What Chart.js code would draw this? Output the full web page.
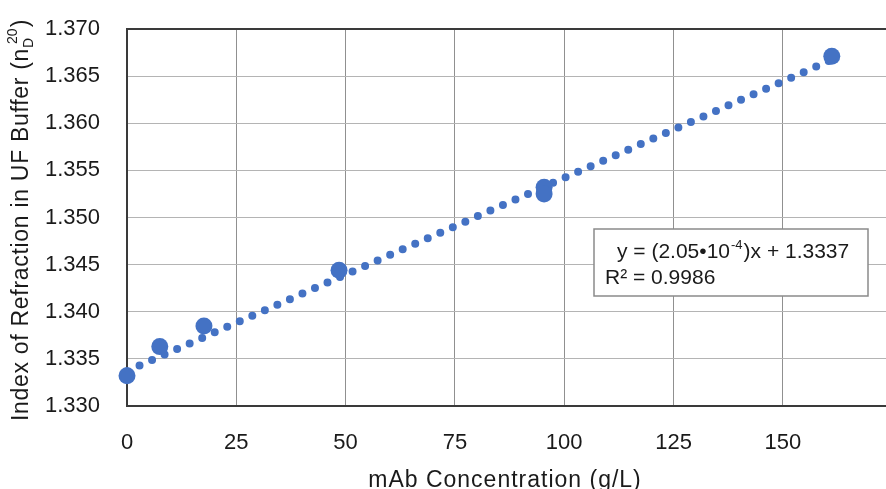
<!DOCTYPE html>
<html>
<head>
<meta charset="utf-8">
<script src="https://cdn.jsdelivr.net/npm/chart.js@4.4.1/dist/chart.umd.min.js"></script>
<style>
  html, body { margin: 0; padding: 0; background: #fff; overflow: hidden; }
  canvas { display: block; }
</style>
</head>
<body>
<canvas id="grafica" width="886" height="489"></canvas>
<script>
// measured samples (mAb concentration in g/L vs refractive index)
const concentracion = [0, 7.5, 17.6, 48.5, 95.4, 95.4, 161.2];
const indice = [1.3332, 1.3363, 1.3385, 1.3444, 1.3532, 1.3525, 1.3671];

// fitted trend line, ends
const tendenciaX = [0, 161];
const tendenciaY = [1.3337, 1.3667];

const ticksX = [0, 25, 50, 75, 100, 125, 150];
const ticksY = [1.330, 1.335, 1.340, 1.345, 1.350, 1.355, 1.360, 1.365, 1.370];

const azul = '#4472C4';
const fuente = "'Liberation Sans', Arial, sans-serif";

const puntos = concentracion.map((x, i) => ({ x: x, y: indice[i] }));
const tendencia = tendenciaX.map((x, i) => ({ x: x, y: tendenciaY[i] }));

// draws the top border, axis titles and the equation box
const extras = {
    id: 'extras',
    beforeDatasetsDraw(chart) {
        const ctx = chart.ctx;
        const a = chart.chartArea;
        ctx.save();
        ctx.strokeStyle = '#3a3a3a';
        ctx.lineWidth = 2;
        ctx.beginPath();
        ctx.moveTo(a.left - 1, a.top);
        ctx.lineTo(a.right, a.top);
        ctx.stroke();
        ctx.restore();
    },
    afterDatasetsDraw(chart) {
        const ctx = chart.ctx;
        ctx.save();
        ctx.fillStyle = '#1a1a1a';
        ctx.textBaseline = 'alphabetic';

        // x title
        ctx.font = '23px ' + fuente;
        ctx.letterSpacing = '1px';
        ctx.textAlign = 'center';
        ctx.fillText('mAb Concentration (g/L)', 505, 487);

        // y title with sub/superscript
        ctx.save();
        ctx.translate(28, 421);
        ctx.rotate(-Math.PI / 2);
        ctx.textAlign = 'left';
        ctx.letterSpacing = '0.7px';
        let pos = 0;
        const parte1 = 'Index of Refraction in UF Buffer (n';
        ctx.font = '23px ' + fuente;
        ctx.fillText(parte1, pos, 0);
        pos += ctx.measureText(parte1).width;
        ctx.font = '14px ' + fuente;
        ctx.letterSpacing = '0px';
        ctx.fillText('D', pos, 5);
        const wD = ctx.measureText('D').width;
        ctx.fillText('20', pos + 4, -11);
        const w20 = ctx.measureText('20').width;
        pos += Math.max(wD, w20 + 4) + 1;
        ctx.font = '23px ' + fuente;
        ctx.fillText(')', pos, 0);
        ctx.restore();

        // equation box
        ctx.letterSpacing = '0px';
        const bx = 594, by = 229, bw = 274, bh = 67;
        ctx.fillStyle = '#ffffff';
        ctx.fillRect(bx, by, bw, bh);
        ctx.strokeStyle = '#8a8a8a';
        ctx.lineWidth = 1.5;
        ctx.strokeRect(bx, by, bw, bh);

        ctx.fillStyle = '#1a1a1a';
        ctx.textAlign = 'left';
        ctx.font = '21px ' + fuente;
        let tx = 617;
        const l1 = 'y = (2.05\u202210';
        ctx.fillText(l1, tx, 258);
        tx += ctx.measureText(l1).width;
        ctx.font = '13px ' + fuente;
        ctx.fillText('-4', tx + 1, 249);
        tx += ctx.measureText('-4').width + 2;
        ctx.font = '21px ' + fuente;
        ctx.fillText(')x + 1.3337', tx, 258);
        ctx.fillText('R\u00b2 = 0.9986', 605, 284);
        ctx.restore();
    }
};

const ctx = document.getElementById('grafica').getContext('2d');

const grafico = new Chart(ctx, {
    type: 'scatter',
    data: {
        datasets: [
            {
                label: 'Datos',
                data: puntos,
                backgroundColor: azul,
                borderWidth: 0,
                pointRadius: 8.5,
                clip: false
            },
            {
                type: 'line',
                label: 'Tendencia',
                data: tendencia,
                showLine: true,
                borderColor: azul,
                borderWidth: 8,
                borderDash: [0, 13.7],
                borderCapStyle: 'round',
                pointRadius: 0,
                fill: false,
                clip: false
            }
        ]
    },
    options: {
        responsive: false,
        animation: false,
        layout: {
            autoPadding: false,
            padding: { left: 0, right: 0, top: 29, bottom: 0 }
        },
        plugins: {
            legend: { display: false },
            tooltip: { enabled: false }
        },
        scales: {
            x: {
                type: 'linear',
                min: 0,
                max: 173.6,
                afterBuildTicks: scale => {
                    scale.ticks = ticksX.map(v => ({ value: v }));
                },
                afterFit: scale => {
                    scale.height = 83;
                    scale.paddingRight = 0;
                },
                ticks: {
                    includeBounds: false,
                    padding: 0,
                    color: '#1a1a1a',
                    font: { family: fuente, size: 22 },
                    maxRotation: 0
                },
                grid: { color: '#909090', lineWidth: 1, drawTicks: true, tickLength: 24, tickColor: 'rgba(0,0,0,0)' },
                border: { display: true, color: '#3a3a3a', width: 2 }
            },
            y: {
                min: 1.330,
                max: 1.370,
                afterBuildTicks: scale => {
                    scale.ticks = ticksY.map(v => ({ value: v }));
                },
                afterFit: scale => { scale.width = 127; },
                ticks: {
                    padding: 0,
                    color: '#1a1a1a',
                    font: { family: fuente, size: 22 },
                    callback: v => v.toFixed(3)
                },
                grid: { color: '#b4b4b4', lineWidth: 1, drawTicks: true, tickLength: 27, tickColor: 'rgba(0,0,0,0)' },
                border: { display: true, color: '#3a3a3a', width: 2 }
            }
        }
    },
    plugins: [extras]
});
</script>
</body>
</html>
